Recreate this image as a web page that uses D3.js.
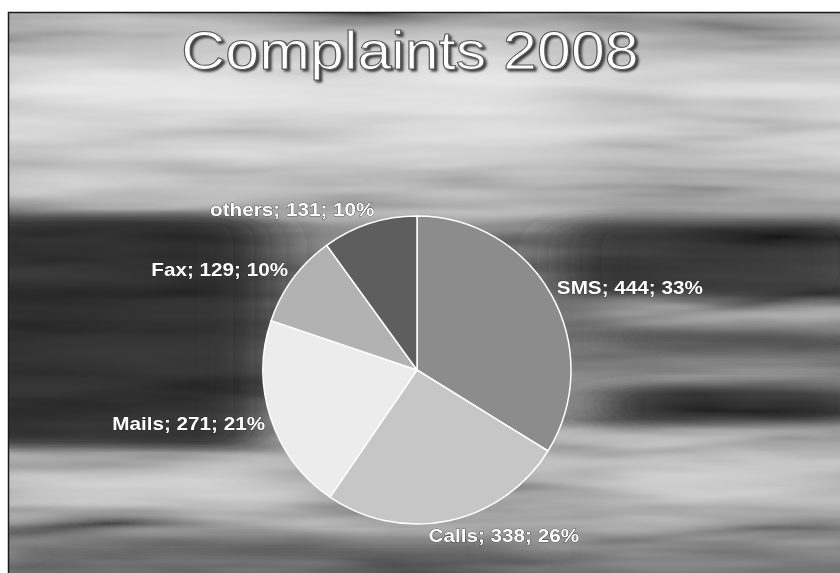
<!DOCTYPE html>
<html lang="en">
<head>
    <meta charset="UTF-8">
    <title>Complaints 2008</title>
    <style>
        body { margin: 0; background: #ffffff; }
        svg { display: block; }
        .title { font-family: 'Liberation Sans', Arial, sans-serif; font-size: 53px; }
        .slice-label { font-family: 'Liberation Sans', Arial, sans-serif; font-size: 18px; font-weight: bold; }
    </style>
</head>
<body>

    <svg width="840" height="573"></svg>

    <script src="https://d3js.org/d3.v7.min.js"></script>

    <script>

        // Values
        const categories = ['SMS', 'Calls', 'Mails', 'Fax', 'others'];
        const counts = [444, 338, 271, 129, 131];
        const percentLabels = ['33%', '26%', '21%', '10%', '10%'];
        const sliceGrays = ['#8c8c8c', '#c6c6c6', '#ececec', '#b2b2b2', '#5e5e5e'];

        const titleText = 'Complaints 2008';

        const data = categories.map(function (c, i) {
            return { name: c, value: counts[i], pct: percentLabels[i] };
        });

        const svg = d3.select('svg');
        const width = +svg.attr('width');
        const height = +svg.attr('height');

        // the slide sits a few pixels in from the top left corner
        const frame = { left: 8, top: 12 };

        const pieX = 417;
        const pieY = 370;
        const radius = 154;
        const labelRadius = radius + 6;
        const stretch = 1.15;   // the slide was squeezed into a wider picture

        const defs = svg.append('defs');

        const bg = defs.append('linearGradient')
            .attr('id', 'bg')
            .attr('x1', 0).attr('y1', 0).attr('x2', 0).attr('y2', 1);

        [
            [0.00, '#808080'], [0.05, '#a2a2a2'], [0.13, '#cdcdcd'],
            [0.24, '#bcbcbc'], [0.32, '#979797'], [0.40, '#626262'],
            [0.55, '#585858'], [0.68, '#6e6e6e'], [0.78, '#9c9c9c'],
            [0.88, '#8e8e8e'], [1.00, '#5a5a5a']
        ].forEach(function (s) {
            bg.append('stop').attr('offset', s[0]).attr('stop-color', s[1]);
        });

        const blur = defs.append('filter')
            .attr('id', 'soft')
            .attr('x', '-50%').attr('y', '-50%')
            .attr('width', '200%').attr('height', '200%');
        blur.append('feGaussianBlur').attr('stdDeviation', '30 7');

        // horizontal streaks like a long exposure photo
        const streaks = defs.append('filter')
            .attr('id', 'streaks')
            .attr('x', 0).attr('y', 0).attr('width', '100%').attr('height', '100%');
        streaks.append('feTurbulence')
            .attr('type', 'fractalNoise')
            .attr('baseFrequency', '0.0035 0.035')
            .attr('numOctaves', 3)
            .attr('seed', 11);
        streaks.append('feColorMatrix')
            .attr('type', 'matrix')
            .attr('values', '0.33 0.33 0.33 0 0  0.33 0.33 0.33 0 0  0.33 0.33 0.33 0 0  0 0 0 0 1');
        const contrast = streaks.append('feComponentTransfer');
        ['feFuncR', 'feFuncG', 'feFuncB'].forEach(function (f) {
            contrast.append(f).attr('type', 'linear').attr('slope', 2.4).attr('intercept', -0.7);
        });

        const titleShadow = defs.append('filter')
            .attr('id', 'titleShadow')
            .attr('x', '-10%').attr('y', '-30%')
            .attr('width', '120%').attr('height', '160%');
        titleShadow.append('feDropShadow')
            .attr('dx', 2).attr('dy', 2)
            .attr('stdDeviation', 1)
            .attr('flood-color', '#2e2e2e')
            .attr('flood-opacity', 0.9);

        const slide = svg.append('g');

        slide.append('rect')
            .attr('x', frame.left).attr('y', frame.top)
            .attr('width', width - frame.left).attr('height', height - frame.top)
            .attr('fill', 'url(#bg)');

        // dark and light bands of the photo
        const bands = slide.append('g').attr('filter', 'url(#soft)');
        [
            [-60, 215, 330, 235, '#262626'],
            [560, 220, 320, 80, '#2e2e2e'],
            [600, 330, 280, 22, '#3e3e3e'],
            [600, 385, 280, 40, '#333333'],
            [600, 305, 280, 16, '#a4a4a4'],
            [600, 440, 280, 30, '#a0a0a0'],
            [-20, 465, 340, 40, '#adadad'],
            [0, 540, 520, 24, '#4c4c4c'],
            [30, 60, 520, 50, '#d8d8d8'],
            [0, 170, 300, 30, '#a9a9a9']
        ].forEach(function (b) {
            bands.append('rect')
                .attr('x', b[0]).attr('y', b[1])
                .attr('width', b[2]).attr('height', b[3])
                .attr('rx', 30)
                .attr('fill', b[4]);
        });

        slide.append('rect')
            .attr('x', frame.left).attr('y', frame.top)
            .attr('width', width - frame.left).attr('height', height - frame.top)
            .attr('filter', 'url(#streaks)')
            .style('mix-blend-mode', 'overlay')
            .attr('opacity', 0.55);

        // white page margin outside the slide picture
        svg.append('path')
            .attr('d', 'M0,0H' + width + 'V' + frame.top + 'H' + frame.left + 'V' + height + 'H0Z')
            .attr('fill', '#ffffff');

        // border of the slide picture
        svg.append('path')
            .attr('d', 'M' + (frame.left + 0.5) + ',' + height + 'V' + (frame.top + 0.5) + 'H' + width)
            .attr('fill', 'none')
            .attr('stroke', '#1a1a1a')
            .attr('stroke-width', 1.5);

        // Title
        svg.append('g')
            .attr('transform', 'translate(' + 410 + ' ' + 69 + ') scale(' + stretch + ' 1)')
            .append('text')
            .attr('class', 'title')
            .attr('text-anchor', 'middle')
            .attr('fill', '#ffffff')
            .attr('stroke', '#555555')
            .attr('stroke-width', 1)
            .attr('filter', 'url(#titleShadow)')
            .text(titleText);

        // Pie
        const pie = d3.pie()
            .sort(null)
            .value(function (d) { return d.value; });

        const arc = d3.arc()
            .innerRadius(0)
            .outerRadius(radius);

        const color = d3.scaleOrdinal()
            .domain(categories)
            .range(sliceGrays);

        const arcs = pie(data);

        const pieG = svg.append('g')
            .attr('transform', 'translate(' + pieX + ' ' + pieY + ')');

        pieG.selectAll('path')
            .data(arcs)
            .enter()
            .append('path')
            .attr('d', arc)
            .attr('fill', function (d) { return color(d.data.name); })
            .attr('stroke', '#ffffff')
            .attr('stroke-width', 1.5)
            .attr('stroke-linejoin', 'round');

        // Labels: sit just outside the rim, pushed sideways by most of their width
        const fontSize = 18;

        const labels = pieG.selectAll('g.label')
            .data(arcs)
            .enter()
            .append('g')
            .attr('class', 'label');

        labels.append('text')
            .attr('class', 'slice-label')
            .attr('dy', '0.35em')
            .attr('text-anchor', 'middle')
            .attr('fill', '#ffffff')
            .attr('stroke', '#222222')
            .attr('stroke-width', 0.6)
            .style('paint-order', 'stroke')
            .text(function (d) {
                return d.data.name + '; ' + d.data.value + '; ' + d.data.pct;
            });

        labels.attr('transform', function (d) {
            const a = (d.startAngle + d.endAngle) / 2;
            const dx = Math.sin(a);
            const dy = -Math.cos(a);
            const w = this.querySelector('text').getComputedTextLength() * stretch;
            const push = Math.min(1, 0.3 + Math.abs(dx) * 2);
            const x = dx * labelRadius + Math.sign(dx) * push * w / 2;
            const y = dy * labelRadius + dy * fontSize / 2;
            return 'translate(' + x + ' ' + y + ') scale(' + stretch + ' 1)';
        });

    </script>

</body>
</html>
